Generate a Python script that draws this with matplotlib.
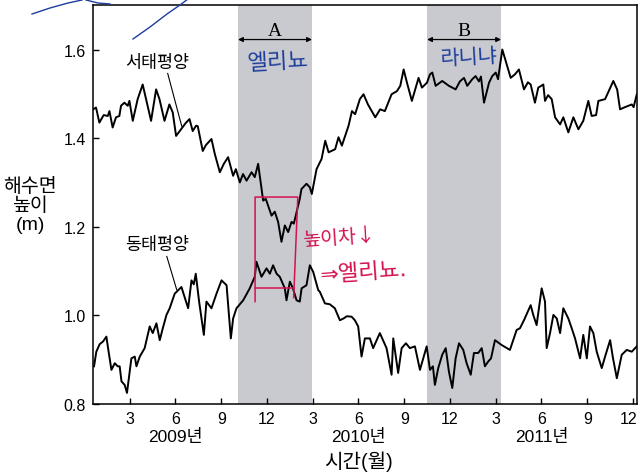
import numpy as np
import matplotlib
matplotlib.use("Agg")
import matplotlib.pyplot as plt
import matplotlib.transforms as mtransforms

# 글꼴: 숫자는 Liberation Sans, 한글은 Noto Sans CJK KR
plt.rcParams['font.family'] = ['Liberation Sans', 'Noto Sans CJK KR', 'DejaVu Sans']

# 시간축: 2009년 1월 = 1 인 월 단위
west_t = [0.60, 0.79, 1.01, 1.29, 1.56, 1.67, 1.88, 2.10, 2.32, 2.43, 2.65, 2.87, 2.98,
          3.20, 3.52, 3.85, 4.07, 4.40, 4.73, 4.95, 5.28, 5.60, 5.82, 6.04, 6.37, 6.67,
          6.92, 7.13, 7.35, 7.46, 7.79, 7.99, 8.36, 8.58, 8.91, 9.17, 9.45, 9.78, 9.96,
          10.22, 10.43, 10.66, 10.99, 11.20, 11.42, 11.75, 11.92, 12.07, 12.30, 12.51,
          12.73, 12.95, 13.17, 13.39, 13.61, 13.76, 13.94, 14.15, 14.26, 14.59, 14.81,
          14.94, 15.25, 15.58, 15.82, 16.04, 16.47, 16.69, 16.91, 17.35, 17.57, 17.78,
          18.09, 18.33, 18.62, 19.10, 19.42, 19.73, 20.17, 20.52, 20.74, 20.96, 21.18,
          21.50, 21.94, 22.16, 22.49, 22.69, 22.84, 23.06, 23.49, 23.93, 24.37, 24.65,
          24.92, 25.13, 25.46, 25.68, 25.90, 26.03, 26.23, 26.56, 26.77, 27.00, 27.15,
          27.43, 27.76, 27.98, 28.26, 28.52, 28.85, 29.11, 29.29, 29.57, 29.79, 30.12,
          30.23, 30.43, 30.67, 30.89, 31.22, 31.43, 31.76, 32.09, 32.42, 32.74, 33.07,
          33.29, 33.58, 33.73, 34.17, 34.71, 34.96, 35.15, 35.48, 35.92, 36.04, 36.25]
west_h = [1.465, 1.469, 1.435, 1.452, 1.450, 1.461, 1.424, 1.447, 1.450, 1.473, 1.480, 1.473, 1.484,
          1.439, 1.488, 1.521, 1.488, 1.439, 1.510, 1.488, 1.439, 1.476, 1.458, 1.405, 1.420, 1.434,
          1.443, 1.416, 1.428, 1.427, 1.371, 1.384, 1.398, 1.364, 1.323, 1.342, 1.357, 1.315, 1.330,
          1.300, 1.319, 1.304, 1.323, 1.312, 1.342, 1.259, 1.263, 1.248, 1.225, 1.234,
          1.211, 1.166, 1.203, 1.188, 1.211, 1.207, 1.233, 1.263, 1.285, 1.297, 1.289,
          1.274, 1.330, 1.353, 1.394, 1.368, 1.375, 1.402, 1.383, 1.428, 1.461, 1.454,
          1.488, 1.499, 1.476, 1.447, 1.465, 1.461, 1.499, 1.506, 1.518, 1.555, 1.525,
          1.484, 1.536, 1.514, 1.525, 1.544, 1.548, 1.518, 1.529, 1.518, 1.510, 1.528,
          1.536, 1.518, 1.533, 1.540, 1.528, 1.539, 1.480, 1.525, 1.540, 1.548, 1.533,
          1.600, 1.562, 1.536, 1.544, 1.555, 1.510, 1.526, 1.521, 1.480, 1.514, 1.521,
          1.484, 1.497, 1.488, 1.447, 1.431, 1.447, 1.413, 1.447, 1.420, 1.439, 1.484,
          1.450, 1.452, 1.484, 1.488, 1.529, 1.510, 1.465, 1.470, 1.476, 1.470, 1.499]

east_t = [0.66, 0.81, 1.03, 1.25, 1.47, 1.58, 1.80, 2.02, 2.21, 2.34, 2.46, 2.67, 2.82,
          3.11, 3.33, 3.44, 3.66, 3.98, 4.31, 4.51, 4.75, 4.97, 5.17, 5.41, 5.62, 5.95,
          6.39, 6.83, 7.05, 7.20, 7.33, 7.55, 7.86, 8.03, 8.36, 8.69, 9.02, 9.35, 9.63,
          9.78, 10.00, 10.44, 10.87, 11.20, 11.31, 11.64, 11.97, 12.19, 12.40, 12.63,
          12.84, 13.17, 13.28, 13.50, 13.70, 13.94, 14.15, 14.27, 14.59, 14.81, 15.03,
          15.36, 15.47, 15.80, 16.12, 16.45, 16.78, 17.02, 17.24, 17.55, 17.76, 17.98,
          18.20, 18.42, 18.75, 18.96, 19.40, 19.84, 20.17, 20.28, 20.60, 20.83, 21.11,
          21.37, 21.70, 22.03, 22.47, 22.69, 22.88, 23.01, 23.23, 23.49, 23.72, 23.93,
          24.15, 24.37, 24.59, 24.87, 25.09, 25.36, 25.57, 25.85, 26.08, 26.29, 26.51,
          26.69, 26.95, 27.39, 27.93, 28.37, 28.59, 28.85, 29.29, 29.46, 29.68, 30.01,
          30.23, 30.34, 30.56, 30.78, 31.00, 31.22, 31.43, 31.76, 31.98, 32.20, 32.53,
          32.74, 32.97, 33.18, 33.40, 33.62, 33.95, 34.17, 34.50, 34.69, 34.94, 35.26,
          35.59, 35.92, 36.14, 36.25]
east_h = [0.885, 0.918, 0.935, 0.941, 0.952, 0.926, 0.877, 0.892, 0.885, 0.885, 0.851, 0.843, 0.825,
          0.903, 0.907, 0.885, 0.907, 0.926, 0.975, 0.960, 0.982, 0.944, 0.971, 1.001, 1.016, 1.049,
          1.064, 1.016, 1.079, 1.070, 1.094, 1.031, 0.956, 1.031, 1.016, 1.049, 1.079, 1.068, 0.948,
          0.993, 1.016, 1.034, 1.061, 1.087, 1.121, 1.087, 1.106, 1.094, 1.113, 1.094,
          1.087, 1.061, 1.034, 1.076, 1.061, 1.034, 1.031, 1.061, 1.068, 1.113, 1.098,
          1.057, 1.053, 1.027, 1.025, 1.016, 0.989, 0.993, 0.998, 0.997, 0.989, 0.975,
          0.907, 0.948, 0.948, 0.926, 0.960, 0.926, 0.866, 0.948, 0.870, 0.926, 0.937,
          0.926, 0.930, 0.877, 0.930, 0.877, 0.885, 0.843, 0.881, 0.911, 0.926, 0.873,
          0.836, 0.903, 0.937, 0.922, 0.892, 0.866, 0.915, 0.915, 0.926, 0.885, 0.896,
          0.903, 0.944, 0.933, 0.922, 0.967, 0.971, 0.989, 1.023, 1.001, 0.978, 1.061,
          1.031, 0.926, 0.960, 1.001, 0.993, 0.960, 1.016, 0.993, 0.971, 0.948, 0.903,
          0.956, 0.903, 0.975, 0.960, 0.918, 0.881, 0.907, 0.944, 0.903, 0.858, 0.911,
          0.922, 0.918, 0.926, 0.930]

# 엘니뇨(A), 라니냐(B) 기간
span_a = (10.1, 14.95)
span_b = (22.5, 27.35)

month_ticks = [3, 6, 9, 12, 15, 18, 21, 24, 27, 30, 33, 36]
month_labels = ['3', '6', '9', '12', '3', '6', '9', '12', '3', '6', '9', '12']
year_pos = [6, 18, 30]
year_labels = ['2009년', '2010년', '2011년']

fig = plt.figure(figsize=(6.4, 4.77), dpi=100)
ax = fig.add_axes([0.1455, 0.151, 0.85, 0.836])

ax.axvspan(*span_a, color='#c9cad0', lw=0, zorder=0)
ax.axvspan(*span_b, color='#c9cad0', lw=0, zorder=0)

ax.plot(west_t, west_h, color='black', lw=1.4, zorder=3)
ax.plot(east_t, east_h, color='black', lw=1.4, zorder=3)

ax.set_xlim(0.6, 36.27)
ax.set_ylim(0.8, 1.70)
ax.set_yticks([0.8, 1.0, 1.2, 1.4, 1.6])
ax.set_yticklabels(['0.8', '1.0', '1.2', '1.4', '1.6'])
ax.set_xticks(month_ticks)
ax.set_xticklabels(month_labels)
ax.tick_params(direction='in', length=4, width=1, labelsize=11.5, pad=5)
for s in ax.spines.values():
    s.set_linewidth(1.1)

# 오른쪽 끝 눈금 글자는 그림 밖으로 나가지 않게 조금 왼쪽으로
last = ax.get_xticklabels()[-1]
last.set_transform(last.get_transform() +
                   mtransforms.ScaledTranslation(-4 / 100, 0, fig.dpi_scale_trans))

# 연도, 축 제목
for x, lab in zip(year_pos, year_labels):
    ax.text(x, -0.08, lab, transform=ax.get_xaxis_transform(),
            ha='center', va='center', fontsize=12.5)
ax.text(18, -0.143, '시간(월)', transform=ax.get_xaxis_transform(),
        ha='center', va='center', fontsize=14.5)
fig.text(30 / 640, 1 - 206 / 477, '해수면\n높이\n(m)', ha='center', va='center',
         fontsize=14, linespacing=1.1, multialignment='center')

# 곡선 이름과 지시선
ax.text(4.77, 1.571, '서태평양', ha='center', va='center', fontsize=12.5)
ax.plot([5.49, 6.41], [1.546, 1.427], color='black', lw=0.8)
ax.text(4.77, 1.162, '동태평양', ha='center', va='center', fontsize=12.5)
ax.plot([5.43, 6.08], [1.133, 1.058], color='black', lw=0.8)

# 기간 화살표
for span, lab in [(span_a, 'A'), (span_b, 'B')]:
    ax.annotate('', xy=(span[0], 1.6225), xytext=(span[1], 1.6225),
                arrowprops=dict(arrowstyle='<|-|>', color='black', lw=0.9,
                                mutation_scale=7, shrinkA=0, shrinkB=0))
    ax.text((span[0] + span[1]) / 2, 1.643, lab, ha='center', va='center',
            fontsize=14, family='Liberation Serif')

# 손글씨 메모
blue = '#1d3d9c'
red = '#d4124e'
ax.text(12.71, 1.571, '엘리뇨', ha='center', va='center', fontsize=16,
        color=blue, rotation=3)
ax.text(25.24, 1.582, '라니냐', ha='center', va='center', fontsize=15,
        color=blue, rotation=3)
ax.plot([11.22, 11.22, 14.02, 13.75], [1.031, 1.267, 1.267, 1.040],
        color=red, lw=1.1, zorder=4)
ax.plot([11.22, 13.75], [1.061, 1.061], color=red, lw=1.1, zorder=4)
ax.text(14.3, 1.178, '높이차↓', ha='left', va='center', fontsize=14,
        color=red, rotation=4, family=['Noto Sans CJK KR', 'DejaVu Sans'])
ax.text(15.47, 1.099, '⇒엘리뇨.', ha='left', va='center', fontsize=16,
        color=red, rotation=4, family=['DejaVu Sans', 'Noto Sans CJK KR'])

# 위쪽 낙서 선
doodle_1 = ([32, 50, 68, 82], [15, 9, 4, 1])
doodle_2 = ([86, 98, 110], [1, 4, 5])
doodle_3 = ([133, 150, 167, 180, 188], [40, 28, 15, 6, 0])
for xs, ys in [doodle_1, doodle_2, doodle_3]:
    fig.add_artist(plt.Line2D(np.array(xs) / 640, 1 - np.array(ys) / 477,
                              color=blue, lw=1.0))

fig.savefig('out.png', dpi=100)
